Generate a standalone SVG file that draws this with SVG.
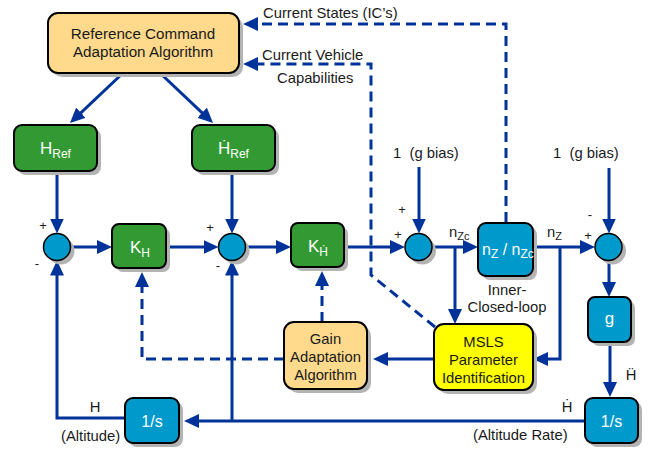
<svg xmlns="http://www.w3.org/2000/svg" width="652" height="451" viewBox="0 0 652 451">
<defs>
<style>
.ln{fill:none;stroke:#003399;stroke-width:3}
.dash{stroke-dasharray:10 6}
.bx{stroke:#000;stroke-width:2}
.sh{fill:#B3B3B3}
.grn{fill:#339933}
.blu{fill:#0099CC}
.org{fill:#FFD98C}
.yel{fill:#FFFF00}
.t{font-family:"Liberation Sans",Arial,"DejaVu Sans",sans-serif;fill:#1a1a1a;font-size:14.8px}
.w{fill:#fff}
.s{font-size:13px}
.c{text-anchor:middle}
</style>
<marker id="ah" viewBox="0 0 15 14" refX="11" refY="7" markerWidth="15" markerHeight="14" markerUnits="userSpaceOnUse" orient="auto">
<path d="M0,0 L15,7 L0,14 z" fill="#003399"/>
</marker>
</defs>
<rect width="652" height="451" fill="#fff"/>

<g id="connectors">
<line class="ln" x1="123" y1="73" x2="72.9" y2="120.3" marker-end="url(#ah)"/>
<line class="ln" x1="160" y1="73" x2="210.1" y2="120.3" marker-end="url(#ah)"/>
<line class="ln" x1="57" y1="171" x2="57" y2="229.5" marker-end="url(#ah)"/>
<line class="ln" x1="71" y1="247" x2="108" y2="247" marker-end="url(#ah)"/>
<line class="ln" x1="166" y1="247" x2="214.5" y2="247" marker-end="url(#ah)"/>
<line class="ln" x1="232" y1="171" x2="232" y2="229.5" marker-end="url(#ah)"/>
<line class="ln" x1="245.5" y1="247" x2="287" y2="247" marker-end="url(#ah)"/>
<line class="ln" x1="344" y1="247" x2="401" y2="247" marker-end="url(#ah)"/>
<line class="ln" x1="419" y1="167" x2="419" y2="229.5" marker-end="url(#ah)"/>
<line class="ln" x1="432" y1="247" x2="474" y2="247" marker-end="url(#ah)"/>
<line class="ln" x1="455" y1="247" x2="455" y2="320" marker-end="url(#ah)"/>
<line class="ln" x1="533" y1="247" x2="591" y2="247" marker-end="url(#ah)"/>
<path class="ln" d="M560,247 L560,359 L537,359" marker-end="url(#ah)"/>
<line class="ln" x1="609" y1="168" x2="609" y2="229.5" marker-end="url(#ah)"/>
<line class="ln" x1="609" y1="261" x2="609" y2="293" marker-end="url(#ah)"/>
<line class="ln" x1="610" y1="342" x2="610" y2="393" marker-end="url(#ah)"/>
<line class="ln" x1="585" y1="421" x2="188" y2="421" marker-end="url(#ah)"/>
<line class="ln" x1="232" y1="421" x2="232" y2="264.5" marker-end="url(#ah)"/>
<path class="ln" d="M125,418 L57,418 L57,264.5" marker-end="url(#ah)"/>
<line class="ln" x1="434" y1="359" x2="377" y2="359" marker-end="url(#ah)"/>
<path class="ln dash" d="M506,222 L506,24 L247,24" marker-end="url(#ah)"/>
<path class="ln dash" d="M435,327 L371,275 L371,64 L247,64" marker-end="url(#ah)"/>
<path class="ln dash" d="M284,359 L142,359 L142,276" marker-end="url(#ah)"/>
<line class="ln dash" x1="322" y1="322" x2="322" y2="275" marker-end="url(#ah)"/>
</g>

<g id="ref-cmd">
<rect class="sh" x="52" y="17" width="191" height="60" rx="10"/>
<rect class="bx org" x="48" y="13" width="191" height="60" rx="10"/>
<text class="t c" x="143" y="39" style="font-size:15.2px">Reference Command</text>
<text class="t c" x="143" y="57" style="font-size:15.2px">Adaptation Algorithm</text>
</g>

<g id="href">
<rect class="sh" x="18" y="129" width="83" height="46" rx="8"/>
<rect class="bx grn" x="14" y="125" width="83" height="46" rx="8"/>
<text class="t w" x="40" y="154" style="font-size:17px">H<tspan dy="4" style="font-size:12px">Ref</tspan></text>
</g>

<g id="hdotref">
<rect class="sh" x="196" y="129" width="83" height="46" rx="8"/>
<rect class="bx grn" x="192" y="125" width="83" height="46" rx="8"/>
<text class="t w" x="218" y="154" style="font-size:17px">Ḣ<tspan dy="4" style="font-size:12px">Ref</tspan></text>
</g>

<g id="sum1">
<circle class="sh" cx="61" cy="251" r="13.5"/>
<circle class="blu" cx="57" cy="247" r="13.5" stroke="#000" stroke-width="1.5"/>
<text class="t s" x="43" y="230" text-anchor="middle">+</text>
<text class="t s" x="37" y="268" text-anchor="middle">-</text>
</g>

<g id="kh">
<rect class="sh" x="116" y="228" width="54" height="44" rx="7"/>
<rect class="bx grn" x="112" y="224" width="54" height="44" rx="7"/>
<text class="t w" x="130" y="253" style="font-size:17px">K<tspan dy="4" style="font-size:12px">H</tspan></text>
</g>

<g id="sum2">
<circle class="sh" cx="236" cy="251" r="13.5"/>
<circle class="blu" cx="232" cy="247" r="13.5" stroke="#000" stroke-width="1.5"/>
<text class="t s" x="210" y="232" text-anchor="middle">+</text>
<text class="t s" x="218" y="270" text-anchor="middle">-</text>
</g>

<g id="khdot">
<rect class="sh" x="295" y="227" width="53" height="44" rx="7"/>
<rect class="bx grn" x="291" y="223" width="53" height="44" rx="7"/>
<text class="t w" x="308" y="252" style="font-size:17px">K<tspan dy="4" style="font-size:12px">Ḣ</tspan></text>
</g>

<g id="sum3">
<circle class="sh" cx="422.5" cy="251" r="13.5"/>
<circle class="blu" cx="418.5" cy="247" r="13.5" stroke="#000" stroke-width="1.5"/>
<text class="t s" x="402" y="214" text-anchor="middle">+</text>
<text class="t s" x="398" y="239" text-anchor="middle">+</text>
</g>

<g id="nz-box">
<rect class="sh" x="482" y="227" width="55" height="53" rx="8"/>
<rect class="bx blu" x="478" y="223" width="55" height="53" rx="8"/>
<text class="t w" x="482" y="255" style="font-size:16px">n<tspan dy="3" style="font-size:12px">Z</tspan><tspan dy="-3"> / n</tspan><tspan dy="3" style="font-size:12px">Zc</tspan></text>
</g>

<g id="sum4">
<circle class="sh" cx="612.5" cy="251" r="13.5"/>
<circle class="blu" cx="608.5" cy="247" r="13.5" stroke="#000" stroke-width="1.5"/>
<text class="t s" x="590" y="219" text-anchor="middle">-</text>
<text class="t s" x="588" y="240" text-anchor="middle">+</text>
</g>

<g id="g-box">
<rect class="sh" x="592" y="301" width="43" height="45" rx="7"/>
<rect class="bx blu" x="588" y="297" width="43" height="45" rx="7"/>
<text class="t w c" x="609.5" y="324" style="font-size:17px">g</text>
</g>

<g id="int-rate">
<rect class="sh" x="589" y="402" width="53" height="45" rx="8"/>
<rect class="bx blu" x="585" y="398" width="53" height="45" rx="8"/>
<text class="t w c" x="611.5" y="427" style="font-size:16px">1/s</text>
</g>

<g id="int-alt">
<rect class="sh" x="129" y="402" width="54" height="45" rx="8"/>
<rect class="bx blu" x="125" y="398" width="54" height="45" rx="8"/>
<text class="t w c" x="152" y="427" style="font-size:16px">1/s</text>
</g>

<g id="gain">
<rect class="sh" x="288" y="326" width="83" height="67" rx="10"/>
<rect class="bx org" x="284" y="322" width="83" height="67" rx="10"/>
<text class="t c" x="325.5" y="344">Gain</text>
<text class="t c" x="325.5" y="362">Adaptation</text>
<text class="t c" x="325.5" y="380">Algorithm</text>
</g>

<g id="msls">
<rect class="sh" x="438" y="328" width="99" height="66" rx="10"/>
<rect class="bx yel" x="434" y="324" width="99" height="66" rx="10"/>
<text class="t c" x="483.5" y="347">MSLS</text>
<text class="t c" x="483.5" y="365">Parameter</text>
<text class="t c" x="483.5" y="383">Identification</text>
</g>

<g id="labels">
<text class="t" x="263" y="18">Current States (IC’s)</text>
<text class="t" x="262" y="60">Current Vehicle</text>
<text class="t" x="277" y="83">Capabilities</text>
<text class="t" x="393" y="158" style="white-space:pre">1  (g bias)</text>
<text class="t" x="553" y="158" style="white-space:pre">1  (g bias)</text>
<text class="t" x="449" y="237">n<tspan dy="3" style="font-size:11px">Zc</tspan></text>
<text class="t" x="547" y="237">n<tspan dy="3" style="font-size:11px">Z</tspan></text>
<text class="t c" x="507" y="295">Inner-</text>
<text class="t c" x="507" y="312">Closed-loop</text>
<text class="t c" x="631" y="380">Ḧ</text>
<text class="t c" x="567" y="412">Ḣ</text>
<text class="t" x="473" y="440">(Altitude Rate)</text>
<text class="t c" x="95" y="412">H</text>
<text class="t" x="61" y="441">(Altitude)</text>
</g>
</svg>
